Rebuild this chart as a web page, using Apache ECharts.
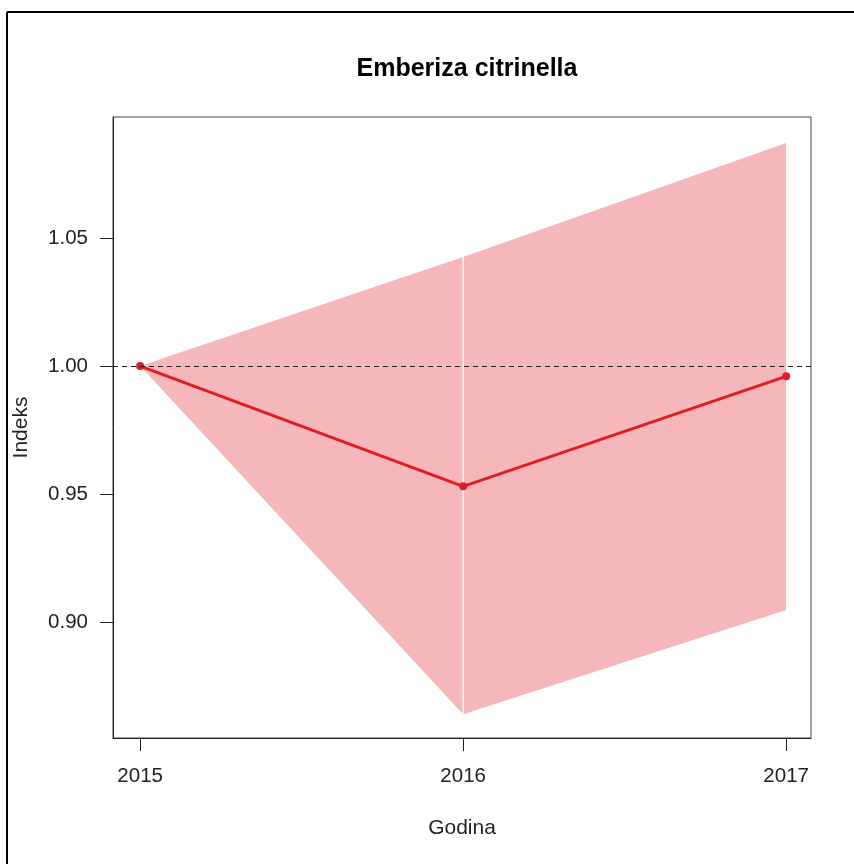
<!DOCTYPE html>
<html>
<head>
<meta charset="utf-8">
<script src="https://cdn.jsdelivr.net/npm/echarts@6/dist/echarts.min.js"></script>
<style>
html,body{margin:0;padding:0;background:#fff;}
#c{width:854px;height:864px;}
</style>
</head>
<body>
<div id="c"></div>
<script>
const years = [2015, 2016, 2017];
const indexValues = [1.000, 0.953, 0.996];
const upperValues = [1.000, 1.0426, 1.0871];
const lowerValues = [1.000, 0.864, 0.9047];
const yTicks = [0.90, 0.95, 1.00, 1.05];
const xTicks = [2015, 2016, 2017];
const titleText = 'Emberiza citrinella';
const xName = 'Godina';
const yName = 'Indeks';

const chart = echarts.init(document.getElementById('c'), null, {renderer: 'canvas'});
const font = '"Liberation Sans", Arial, sans-serif';

// band segments: [x0, lo0, hi0, x1, lo1, hi1]
const bandSegments = [];
for (let i = 0; i < years.length - 1; i++) {
  bandSegments.push([years[i], lowerValues[i], upperValues[i], years[i + 1], lowerValues[i + 1], upperValues[i + 1]]);
}
const lineData = years.map((y, i) => [y, indexValues[i]]);

chart.setOption({
  animation: false,
  backgroundColor: '#fff',
  title: {
    text: titleText,
    left: 462, top: 52, textAlign: 'center',
    textStyle: {fontFamily: font, fontWeight: 'bold', fontSize: 25, color: '#000'}
  },
  grid: {left: 113, top: 117, width: 698, height: 621, show: true, borderColor: '#444', borderWidth: 1, backgroundColor: 'transparent'},
  xAxis: {
    type: 'value', min: 2014.916, max: 2017.077,
    splitLine: {show: false},
    axisLine: {show: true, lineStyle: {color: '#222'}},
    axisTick: {show: true, length: 13, customValues: xTicks, lineStyle: {color: '#222'}},
    axisLabel: {customValues: xTicks, margin: 28, fontFamily: font, fontSize: 20.5, color: '#222', formatter: v => String(Math.round(v))},
    name: xName, nameLocation: 'middle', nameGap: 80,
    nameTextStyle: {fontFamily: font, fontSize: 21, color: '#222'}
  },
  yAxis: {
    type: 'value', min: 0.8547, max: 1.0973,
    splitLine: {show: false},
    axisLine: {show: true, lineStyle: {color: '#222'}},
    axisTick: {show: true, length: 13, customValues: yTicks, lineStyle: {color: '#222'}},
    axisLabel: {customValues: yTicks, margin: 25, fontFamily: font, fontSize: 20.5, color: '#222', formatter: v => v.toFixed(2)},
    name: yName, nameLocation: 'middle', nameGap: 81, nameRotate: 90,
    nameTextStyle: {fontFamily: font, fontSize: 21, color: '#222'}
  },
  series: [
    {
      type: 'custom', silent: true, z: 1,
      data: bandSegments,
      encode: {x: [0, 3], y: [1, 2, 4, 5]},
      renderItem: function (params, api) {
        const p0lo = api.coord([api.value(0), api.value(1)]);
        const p0hi = api.coord([api.value(0), api.value(2)]);
        const p1lo = api.coord([api.value(3), api.value(4)]);
        const p1hi = api.coord([api.value(3), api.value(5)]);
        return {
          type: 'group',
          children: [
            {type: 'polygon', shape: {points: [p0lo, p1lo, p1hi, p0hi]}, style: {fill: 'rgb(245,183,185)', stroke: null}},
          ]
        };
      }
    },
    {
      type: 'custom', silent: true, z: 2,
      data: years.slice(1, -1).map(y => { const i = years.indexOf(y); return [y, lowerValues[i], upperValues[i]]; }),
      renderItem: function (params, api) {
        const a = api.coord([api.value(0), api.value(1)]);
        const b = api.coord([api.value(0), api.value(2)]);
        return {type: 'line', shape: {x1: a[0], y1: a[1], x2: b[0], y2: b[1]}, style: {stroke: '#fff', lineWidth: 1.2}};
      }
    },
    {type: 'line', data: lineData, symbol: 'circle', symbolSize: 8, z: 4,
     itemStyle: {color: 'rgb(222,30,36)'}, lineStyle: {color: 'rgb(222,30,36)', width: 3},
     markLine: {silent: true, symbol: 'none', label: {show: false},
       lineStyle: {color: '#222', type: [5, 4], width: 1},
       data: [{yAxis: 1.0}]}}
  ],
  graphic: [
    {type: 'line', shape: {x1: 7, y1: 12, x2: 7, y2: 864}, style: {stroke: '#000', lineWidth: 2}},
    {type: 'line', shape: {x1: 7, y1: 12, x2: 854, y2: 12}, style: {stroke: '#000', lineWidth: 2}}
  ]
});
</script>
</body>
</html>
